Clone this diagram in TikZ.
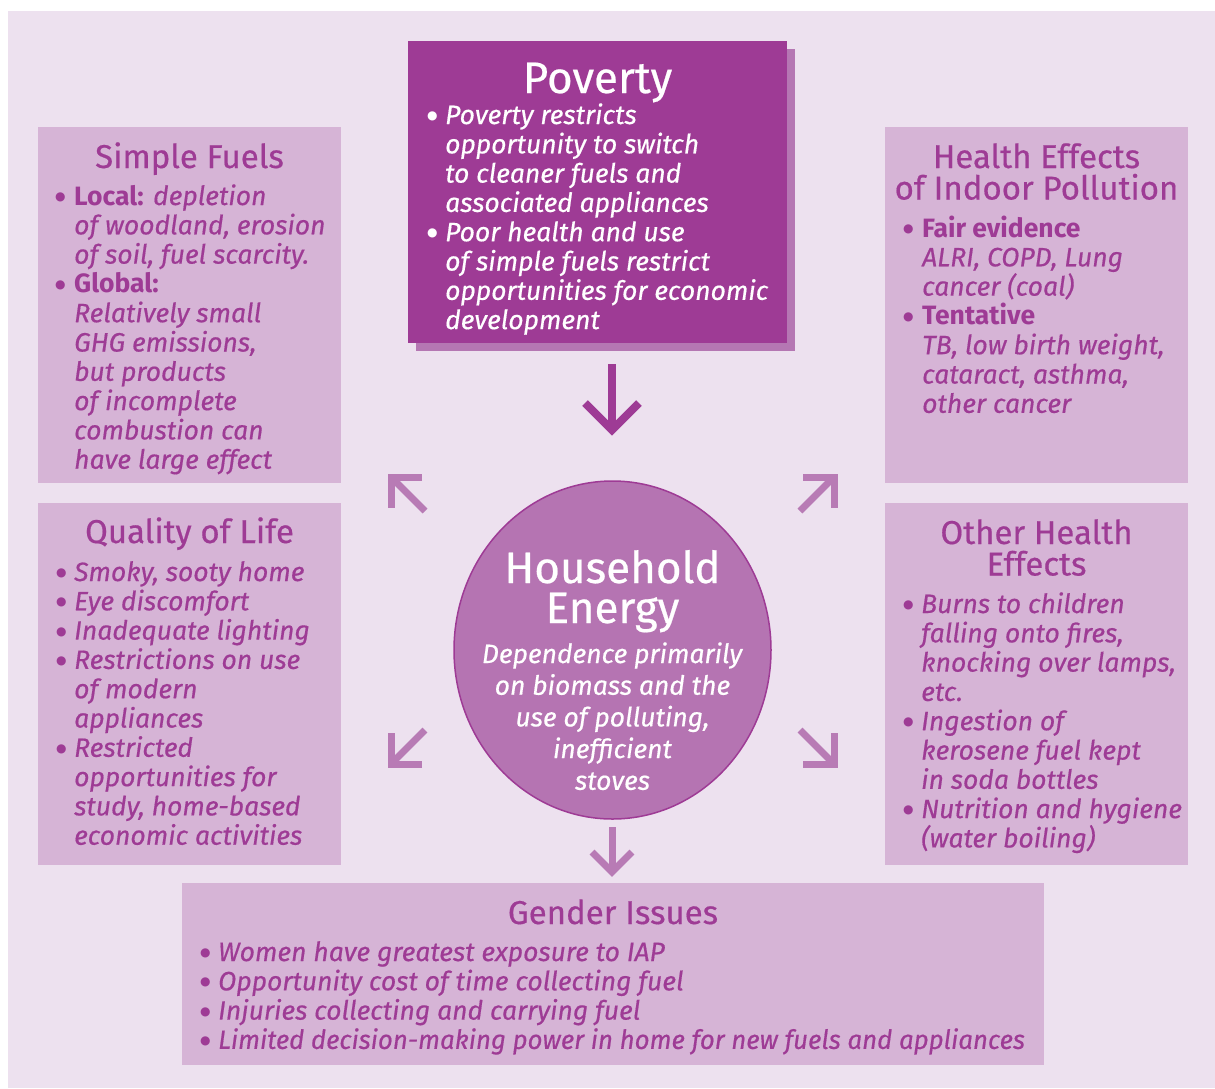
\documentclass[tikz,border=0pt]{standalone}
\usepackage{fontspec}
\setmainfont{Fira Sans}[UprightFeatures={FakeBold=0.5},ItalicFeatures={FakeBold=0.5}]
\newfontfamily\dejavu{DejaVu Sans}
\usetikzlibrary{shapes.geometric}
\definecolor{bgc}{HTML}{EDE1EF}
\definecolor{boxc}{HTML}{D6B4D6}
\definecolor{dark}{HTML}{9E3B95}
\definecolor{shad}{HTML}{B577B3}
\definecolor{circc}{HTML}{B574B2}
\definecolor{arrl}{HTML}{B87BB5}
\newcommand\bi[1]{\makebox[#1][l]{\raisebox{4.5pt}{\dejavu\fontsize{12}{12}\selectfont ●}}}
\newcommand\ci[1]{\hspace*{#1}}
\newcommand\lft[2]{\parbox[t]{#1}{\lineskiplimit=-100pt\relax\raggedright #2}}
\newcommand\ctr[2]{\parbox[t]{#1}{\lineskiplimit=-100pt\relax\centering #2}}
\begin{document}
\begin{tikzpicture}[x=1pt,y=-1pt,
  box/.style={fill=boxc, draw=none, inner sep=0, minimum width=303, minimum height=356},
  ttl/.style={text=dark, font=\fontsize{33}{31.5}\selectfont, inner sep=0, anchor=base},
  bigttl/.style={text=white, font=\fontsize{44}{40}\selectfont, inner sep=0, anchor=base},
  bodyt/.style={text=dark, font=\fontsize{26.5}{29.3}\selectfont, inner sep=0, anchor=base west},
  chev/.style={draw=arrl, line width=7, line join=miter, line cap=butt, miter limit=10},
  chevd/.style={chev, draw=dark, line width=8},
]
\useasboundingbox (0,0) rectangle (1215,1088);
\fill[white] (0,0) rectangle (1215,1088);
\fill[bgc] (8,11) rectangle (1215,1088);

% boxes
\node[box] (sfbox) at (189.5,305) {};
\node[box] (hebox) at (1036.5,305) {};
\node[box, minimum height=362] (qlbox) at (189.5,684) {};
\node[box, minimum height=362] (ohbox) at (1036.5,684) {};
\node[box, minimum width=862, minimum height=182] (gibox) at (613,974) {};
\node[fill=shad, inner sep=0, minimum width=379, minimum height=302] (povshadow) at (605.5,200) {};
\node[fill=dark, inner sep=0, minimum width=379, minimum height=302] (povbox) at (597.5,192) {};
\node[ellipse, fill=circc, draw=dark, line width=1.5, inner sep=0, minimum width=317, minimum height=338] (he) at (612.5,650) {};

% Simple Fuels
\node[ttl] (sft) at (189.5,168) {Simple Fuels};
\node[bodyt] (sfb) at (55,205) {\lft{290pt}{%
\bi{19pt}\textbf{Local:} \textit{depletion}\\
\ci{19pt}\textit{of woodland, erosion}\\
\ci{19pt}\textit{of soil, fuel scarcity.}\\
\bi{19pt}\textbf{Global:}\\
\ci{19pt}\textit{Relatively small}\\
\ci{19pt}\textit{GHG emissions,}\\
\ci{19pt}\textit{but products}\\
\ci{19pt}\textit{of incomplete}\\
\ci{19pt}\textit{combustion can}\\
\ci{19pt}\textit{have large effect}}};

% Health effects of indoor pollution
\node[ttl] (het1) at (1036.5,168) {\ctr{300pt}{Health Effects\\of Indoor Pollution}};
\node[bodyt] (heb) at (903,237) {\lft{290pt}{%
\bi{19pt}\textbf{Fair evidence}\\
\ci{19pt}\textit{ALRI, COPD, Lung}\\
\ci{19pt}\textit{cancer (coal)}\\
\bi{19pt}\textbf{Tentative}\\
\ci{19pt}\textit{TB, low birth weight,}\\
\ci{19pt}\textit{cataract, asthma,}\\
\ci{19pt}\textit{other cancer}}};

% Quality of life
\node[ttl] (qlt) at (189.5,543) {Quality of Life};
\node[bodyt] (qlb) at (56,581) {\lft{290pt}{%
\bi{18pt}\textit{Smoky, sooty home}\\
\bi{18pt}\textit{Eye discomfort}\\
\bi{18pt}\textit{Inadequate lighting}\\
\bi{18pt}\textit{Restrictions on use}\\
\ci{18pt}\textit{of modern}\\
\ci{18pt}\textit{appliances}\\
\bi{18pt}\textit{Restricted}\\
\ci{18pt}\textit{opportunities for}\\
\ci{18pt}\textit{study, home-based}\\
\ci{18pt}\textit{economic activities}}};

% Other health effects
\node[ttl] (oht1) at (1036.5,544) {\ctr{300pt}{Other Health\\Effects}};
\node[bodyt] (ohb) at (903,613) {\lft{290pt}{%
\bi{18pt}\textit{Burns to children}\\
\ci{18pt}\textit{falling onto fires,}\\
\ci{18pt}\textit{knocking over lamps,}\\
\ci{18pt}\textit{etc.}\\
\bi{18pt}\textit{Ingestion of}\\
\ci{18pt}\textit{kerosene fuel kept}\\
\ci{18pt}\textit{in soda bottles}\\
\bi{18pt}\textit{Nutrition and hygiene}\\
\ci{18pt}\textit{(water boiling)}}};

% Gender issues
\node[ttl] (git) at (613,924) {Gender Issues};
\node[bodyt] (gib) at (200,961) {\lft{840pt}{%
\bi{18pt}\textit{Women have greatest exposure to IAP}\\
\bi{18pt}\textit{Opportunity cost of time collecting fuel}\\
\bi{18pt}\textit{Injuries collecting and carrying fuel}\\
\bi{18pt}\scalebox{0.975}[1]{\textit{Limited decision-making power in home for new fuels and appliances}}}};

% Poverty
\node[bigttl] (povt) at (597.5,93) {Poverty};
\node[bodyt, text=white] (povb) at (427,124) {\lft{350pt}{%
\bi{18pt}\textit{Poverty restricts}\\
\ci{18pt}\textit{opportunity to switch}\\
\ci{18pt}\textit{to cleaner fuels and}\\
\ci{18pt}\textit{associated appliances}\\
\bi{18pt}\textit{Poor health and use}\\
\ci{18pt}\textit{of simple fuels restrict}\\
\ci{18pt}\textit{opportunities for economic}\\
\ci{18pt}\textit{development}}};

% Household energy
\node[bigttl] (het) at (612.5,583) {\ctr{310pt}{Household\\Energy}};
\node[text=white, inner sep=0, anchor=base, font=\fontsize{26.5}{31.7}\selectfont] (heb2) at (612.5,663) {\ctr{310pt}{%
\textit{Dependence primarily}\\
\textit{on biomass and the}\\
\textit{use of polluting,}\\
\textit{inefficient}\\
\textit{stoves}}};

% arrows
\coordinate (d1s) at (612,364); \coordinate (d1t) at (612,430);
\draw[chevd] (d1s) -- (d1t);
\draw[chevd] ([shift={(-27,-27)}]d1t) -- (d1t) -- ([shift={(27,-27)}]d1t);

\coordinate (d2s) at (612,827); \coordinate (d2t) at (612,872);
\draw[chev] (d2s) -- (d2t);
\draw[chev] ([shift={(-20,-20)}]d2t) -- (d2t) -- ([shift={(20,-20)}]d2t);

\coordinate (nws) at (425,511); \coordinate (nwt) at (391,477);
\draw[chev] (nws) -- (nwt);
\draw[chev] ([shift={(31,0)}]nwt) -- (nwt) -- ([shift={(0,31)}]nwt);

\coordinate (nes) at (800,511); \coordinate (net) at (834,477);
\draw[chev] (nes) -- (net);
\draw[chev] ([shift={(-31,0)}]net) -- (net) -- ([shift={(0,31)}]net);

\coordinate (sws) at (425,730); \coordinate (swt) at (391,764);
\draw[chev] (sws) -- (swt);
\draw[chev] ([shift={(31,0)}]swt) -- (swt) -- ([shift={(0,-31)}]swt);

\coordinate (ses) at (800,730); \coordinate (set) at (834,764);
\draw[chev] (ses) -- (set);
\draw[chev] ([shift={(-31,0)}]set) -- (set) -- ([shift={(0,-31)}]set);
\end{tikzpicture}
\end{document}
